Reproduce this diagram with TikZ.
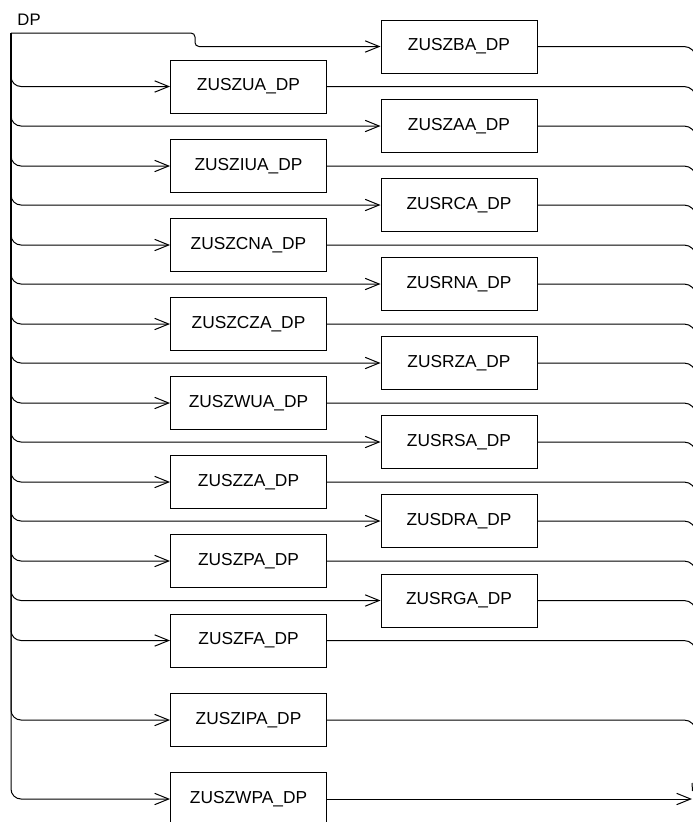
\documentclass[tikz,border=0pt]{standalone}
\usepackage{fontspec}
\setmainfont{Liberation Sans}
\usetikzlibrary{arrows.meta}

\tikzset{
  prog/.style={draw, minimum width=117pt, minimum height=39.75pt, inner sep=0pt,
    font=\fontsize{13}{15}\selectfont},
  feed/.style={-{Straight Barb[length=10.5pt,width=8.5pt,line width=0.75pt]}, rounded corners=7.5pt},
  outline/.style={rounded corners=9pt},
}

\begin{document}
\begin{tikzpicture}[x=0.75pt,y=-0.75pt,line width=0.75pt]
\useasboundingbox (0,0) rectangle (693,822);
\clip (0,0) rectangle (693,822);
% label and bus points
\node[anchor=base west, inner sep=0pt, font=\fontsize{12.5}{14}\selectfont] (dp) at (17,25) {DP};
\coordinate (bus) at (11,33);
\coordinate (bend) at (195,33);
\coordinate (rbus) at (696,0);
\coordinate (sink) at (692,799);
% right column
\node[prog] (zuszba) at (459,46.5) {ZUSZBA\_DP};
\node[prog] (zuszaa) at (459,126) {ZUSZAA\_DP};
\node[prog] (zusrca) at (459,205) {ZUSRCA\_DP};
\node[prog] (zusrna) at (459,284) {ZUSRNA\_DP};
\node[prog] (zusrza) at (459,363) {ZUSRZA\_DP};
\node[prog] (zusrsa) at (459,442) {ZUSRSA\_DP};
\node[prog] (zusdra) at (459,521) {ZUSDRA\_DP};
\node[prog] (zusrga) at (459,600.5) {ZUSRGA\_DP};
% left column
\node[prog] (zuszua) at (248.5,86.5) {ZUSZUA\_DP};
\node[prog] (zusziua) at (248.5,166) {ZUSZIUA\_DP};
\node[prog] (zuszcna) at (248.5,245) {ZUSZCNA\_DP};
\node[prog] (zuszcza) at (248.5,324) {ZUSZCZA\_DP};
\node[prog] (zuszwua) at (248.5,403) {ZUSZWUA\_DP};
\node[prog] (zuszza) at (248.5,482) {ZUSZZA\_DP};
\node[prog] (zuszpa) at (248.5,561) {ZUSZPA\_DP};
\node[prog] (zuszfa) at (248.5,640.5) {ZUSZFA\_DP};
\node[prog] (zuszipa) at (248.5,720) {ZUSZIPA\_DP};
\node[prog] (zuszwpa) at (248.5,799) {ZUSZWPA\_DP};
% feeds from DP
\draw[-{Straight Barb[length=10.5pt,width=8.5pt,line width=0.75pt]}, rounded corners=3pt] (bus) -- (bend) |- (zuszba.west);
\draw[feed] (bus) |- (zuszua.west);
\draw[feed] (bus) |- (zuszaa.west);
\draw[feed] (bus) |- (zusziua.west);
\draw[feed] (bus) |- (zusrca.west);
\draw[feed] (bus) |- (zuszcna.west);
\draw[feed] (bus) |- (zusrna.west);
\draw[feed] (bus) |- (zuszcza.west);
\draw[feed] (bus) |- (zusrza.west);
\draw[feed] (bus) |- (zuszwua.west);
\draw[feed] (bus) |- (zusrsa.west);
\draw[feed] (bus) |- (zuszza.west);
\draw[feed] (bus) |- (zusdra.west);
\draw[feed] (bus) |- (zuszpa.west);
\draw[feed] (bus) |- (zusrga.west);
\draw[feed] (bus) |- (zuszfa.west);
\draw[feed] (bus) |- (zuszipa.west);
\draw[feed] (bus) |- (zuszwpa.west);
% outputs to the right
\draw[outline] (zuszba.east) -| (rbus |- zuszua.east);
\draw[outline] (zuszua.east) -| (rbus |- zuszaa.east);
\draw[outline] (zuszaa.east) -| (rbus |- zusziua.east);
\draw[outline] (zusziua.east) -| (rbus |- zusrca.east);
\draw[outline] (zusrca.east) -| (rbus |- zuszcna.east);
\draw[outline] (zuszcna.east) -| (rbus |- zusrna.east);
\draw[outline] (zusrna.east) -| (rbus |- zuszcza.east);
\draw[outline] (zuszcza.east) -| (rbus |- zusrza.east);
\draw[outline] (zusrza.east) -| (rbus |- zuszwua.east);
\draw[outline] (zuszwua.east) -| (rbus |- zusrsa.east);
\draw[outline] (zusrsa.east) -| (rbus |- zuszza.east);
\draw[outline] (zuszza.east) -| (rbus |- zusdra.east);
\draw[outline] (zusdra.east) -| (rbus |- zuszpa.east);
\draw[outline] (zuszpa.east) -| (rbus |- zusrga.east);
\draw[outline] (zusrga.east) -| (rbus |- zuszfa.east);
\draw[outline] (zuszfa.east) -| (rbus |- zuszipa.east);
\draw[outline] (zuszipa.east) -| (rbus |- zuszwpa.east);
\draw[feed] (zuszwpa.east) -- (sink);
\draw ([shift={(0,-16)}]sink) -- ++(0.5,8);
\end{tikzpicture}
\end{document}
